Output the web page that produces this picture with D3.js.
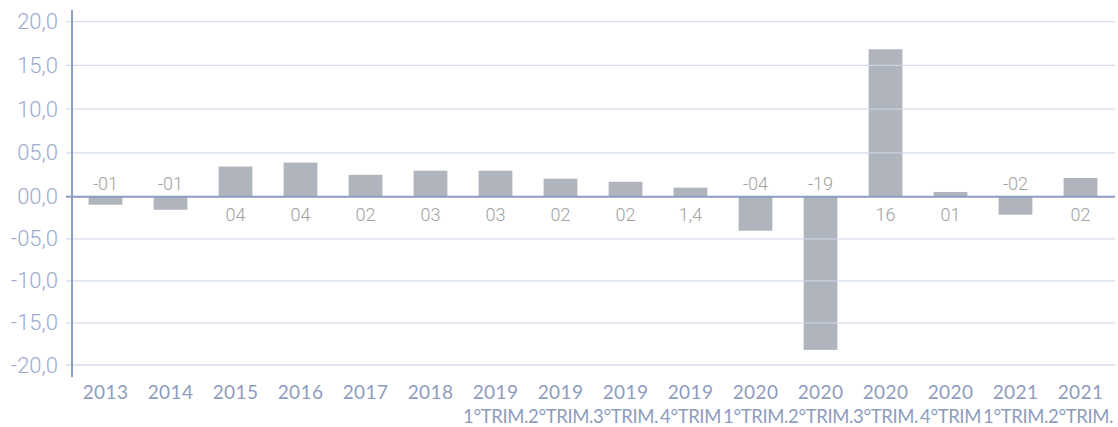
<!DOCTYPE html>
<html>
<head>
<meta charset="utf-8">
<script src="https://cdn.jsdelivr.net/npm/d3@7"></script>
<style>
  body { margin: 0; background: #fff; }
  svg { display: block; }
</style>
</head>
<body>
<div id="chart"></div>
<script>
// data
var years   = ["2013","2014","2015","2016","2017","2018","2019","2019","2019","2019","2020","2020","2020","2020","2021","2021"];
var periods = ["","","","","","","1°TRIM.","2°TRIM.","3°TRIM.","4°TRIM","1°TRIM.","2°TRIM.","3°TRIM.","4°TRIM","1°TRIM.","2°TRIM."];
var values  = [-0.95,-1.55,3.45,3.9,2.5,2.97,2.97,2.06,1.71,1.03,-4.04,-18.2,16.85,0.54,-2.14,2.14];
var barLabels = ["-01","-01","04","04","02","03","03","02","02","1,4","-04","-19","16","01","-02","02"];
var yTicks  = [20,15,10,5,0,-5,-10,-15,-20];
var yTickLabels = ["20,0","15,0","10,0","05,0","00,0","-05,0","-10,0","-15,0","-20,0"];

var width = 1118, height = 427;
var axisX = 72, gridRight = 1115;

var svg = d3.select("#chart").append("svg")
    .attr("width", width)
    .attr("height", height);

var x = d3.scaleBand()
    .domain(d3.range(years.length))
    .range([73, 1113])
    .paddingInner(0.48)
    .paddingOuter(0.24);

var y = d3.scaleLinear()
    .domain([-20, 0, 20])
    .range([365, 196.7, 21.7]);

// bars
svg.append("g").selectAll("rect")
    .data(values)
    .enter().append("rect")
    .attr("x", (d, i) => x(i))
    .attr("width", x.bandwidth())
    .attr("y", d => d >= 0 ? y(d) : y(0))
    .attr("height", d => Math.abs(y(d) - y(0)))
    .attr("fill", "#b0b4bc");

// grid lines (drawn over bars, light)
svg.append("g").selectAll("line")
    .data(yTicks.filter(d => d !== 0))
    .enter().append("line")
    .attr("x1", axisX - 6).attr("x2", gridRight)
    .attr("y1", d => y(d)).attr("y2", d => y(d))
    .attr("stroke", "#cdd7ea")
    .attr("stroke-opacity", 0.85)
    .attr("stroke-width", 1.3);

// zero line
svg.append("line")
    .attr("x1", axisX - 6).attr("x2", gridRight)
    .attr("y1", y(0)).attr("y2", y(0))
    .attr("stroke", "#8d9dc1")
    .attr("stroke-width", 2);

// y axis
var yAxis = d3.axisLeft(y)
    .tickValues(yTicks)
    .tickFormat((d, i) => yTickLabels[i])
    .tickSize(0)
    .tickPadding(14);

var gy = svg.append("g")
    .attr("transform", "translate(" + axisX + ",0)")
    .call(yAxis);
gy.select(".domain").remove();
gy.selectAll("text")
    .attr("fill", "#9dabcc")
    .style("font-family", "Roboto")
    .style("font-weight", 300)
    .style("font-size", "22px");

svg.append("line")
    .attr("x1", axisX).attr("x2", axisX)
    .attr("y1", 10).attr("y2", 377)
    .attr("stroke", "#8d9dc1")
    .attr("stroke-width", 2);

// bar value labels
svg.append("g").selectAll("text")
    .data(values)
    .enter().append("text")
    .attr("x", (d, i) => x(i) + x.bandwidth() / 2)
    .attr("y", d => d >= 0 ? y(0) + 24 : y(0) - 6.5)
    .attr("text-anchor", "middle")
    .attr("fill", "#a2a2a2")
    .style("font-family", "Roboto")
    .style("font-weight", 300)
    .style("font-size", "18px")
    .text((d, i) => barLabels[i]);

// x labels
var xl = svg.append("g").selectAll("text")
    .data(years)
    .enter().append("text")
    .attr("text-anchor", "middle")
    .attr("fill", "#8e9cc0")
    .style("font-family", "Lato")
    .style("font-size", "19px");

xl.append("tspan")
    .attr("x", (d, i) => x(i) + x.bandwidth() / 2)
    .attr("y", 399)
    .style("letter-spacing", "0.4px")
    .text(d => d);

xl.append("tspan")
    .attr("x", (d, i) => x(i) + x.bandwidth() / 2)
    .attr("y", 423)
    .style("font-size", "18.5px")
    .style("letter-spacing", "-0.4px")
    .text((d, i) => periods[i]);
</script>
</body>
</html>
